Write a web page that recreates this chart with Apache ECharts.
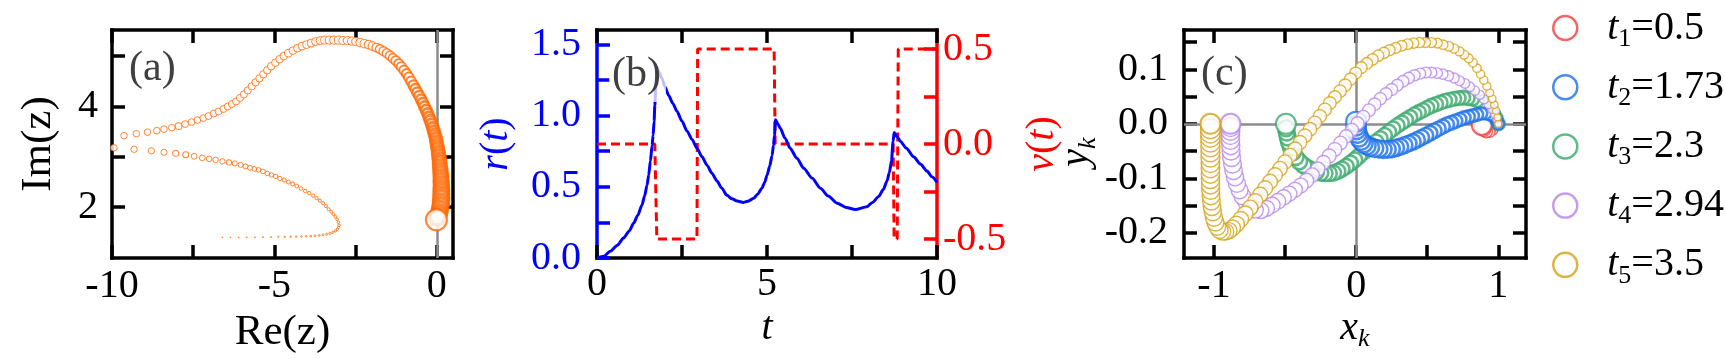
<!DOCTYPE html>
<html><head><meta charset="utf-8">
<script src="https://cdn.jsdelivr.net/npm/echarts@6/dist/echarts.min.js"></script>
<style>html,body{margin:0;padding:0;background:#fff}#c{width:1725px;height:359px}</style>
</head><body><div id="c"></div>
<script>
// ---------------- DATA ----------------
// Panel (a): trajectory of z in the complex plane, [Re(z), Im(z)], from first to last sample
const zPath = [
 [-6.6,1.4],[-6.35,1.4],[-6.1,1.4],[-5.85,1.4],[-5.6,1.4],[-5.35,1.405],[-5.1,1.405],[-4.88,1.41],[-4.68,1.41],[-4.5,1.412],[-4.33,1.415],[-4.17,1.418],[-4.02,1.42],[-3.88,1.425],[-3.75,1.43],[-3.62,1.438],[-3.5,1.448],[-3.39,1.46],[-3.29,1.478],[-3.2,1.5],[-3.12,1.53],[-3.06,1.565],[-3.02,1.6],[-3.01,1.64],
 [-3.03,1.7],[-3.07,1.76],[-3.12,1.81],[-3.18,1.86],[-3.25,1.91],[-3.33,1.96],[-3.41,2.02],[-3.5,2.08],[-3.6,2.13],[-3.7,2.18],[-3.81,2.23],[-3.93,2.28],[-4.05,2.32],[-4.18,2.37],[-4.31,2.42],[-4.44,2.46],[-4.57,2.5],[-4.7,2.54],[-4.83,2.57],[-4.96,2.61],[-5.09,2.64],[-5.22,2.67],[-5.35,2.71],[-5.49,2.74],[-5.62,2.76],[-5.75,2.78],[-5.89,2.81],[-6.04,2.84],[-6.22,2.87],[-6.4,2.89],[-6.6,2.91],[-6.81,2.94],[-7.01,2.96],[-7.22,2.98],[-7.47,3.01],[-7.73,3.04],[-8.04,3.07],[-8.4,3.09],[-8.79,3.12],[-9.32,3.15],[-9.94,3.18],
 [-9.63,3.42],[-9.25,3.46],[-8.91,3.49],[-8.62,3.52],[-8.4,3.55],[-8.16,3.58],[-7.95,3.61],[-7.75,3.65],[-7.55,3.69],[-7.37,3.73],[-7.19,3.77],[-7.03,3.81],[-6.87,3.86],[-6.72,3.9],[-6.57,3.95],[-6.44,4.0],[-6.31,4.05],[-6.18,4.1],
 [-6.06,4.17],[-5.94,4.24],[-5.82,4.32],[-5.7,4.4],[-5.58,4.48],[-5.46,4.56],[-5.34,4.64],[-5.22,4.72],[-5.1,4.8],[-4.97,4.87],[-4.84,4.94],[-4.71,5.0],[-4.57,5.06],[-4.43,5.11],[-4.29,5.16],[-4.15,5.2],[-4.01,5.23],[-3.87,5.26],[-3.73,5.29],[-3.59,5.31],[-3.45,5.32],[-3.31,5.32],[-3.17,5.32],[-3.03,5.32],[-2.89,5.31],[-2.75,5.31],[-2.62,5.3],[-2.49,5.29],[-2.36,5.27],[-2.23,5.25],
 [-2.1,5.23],[-1.98,5.2],[-1.86,5.17],[-1.75,5.14],[-1.64,5.1],[-1.54,5.06],[-1.44,5.01],[-1.35,4.96],[-1.26,4.91],[-1.17,4.85],[-1.09,4.79],[-1.01,4.72],[-0.93,4.65],[-0.86,4.58],[-0.79,4.5],[-0.72,4.42],[-0.66,4.35],[-0.6,4.28],[-0.54,4.21],[-0.48,4.14],[-0.43,4.07],[-0.38,4.0],[-0.33,3.93],[-0.28,3.86],[-0.24,3.79],[-0.2,3.72],[-0.16,3.65],[-0.12,3.58],[-0.09,3.51],[-0.06,3.44],[-0.03,3.37],[-0.01,3.3],
 [0.01,3.23],[0.03,3.16],[0.05,3.09],[0.06,3.02],[0.08,2.95],[0.09,2.88],[0.1,2.81],[0.11,2.74],[0.12,2.67],[0.13,2.6],[0.13,2.53],[0.14,2.46],[0.14,2.39],[0.14,2.32],[0.14,2.25],[0.14,2.18],[0.13,2.11],[0.12,2.04],[0.1,1.97],[0.08,1.9],[0.05,1.84],[0.02,1.79],[-0.01,1.75]
];

// Panel (b): r(t) and nu(t)
const rT = [0,0.2,0.39,0.6,0.78,0.95,1.08,1.2,1.32,1.4,1.47,1.52,1.57,1.62,1.65,1.68,1.7,1.73,1.76,1.83,1.91,2.0,2.11,2.23,2.35,2.5,2.65,2.8,2.94,3.09,3.24,3.38,3.53,3.67,3.82,3.97,4.12,4.31,4.46,4.61,4.73,4.85,4.93,5.0,5.08,5.15,5.19,5.22,5.25,5.32,5.39,5.53,5.68,5.88,6.08,6.33,6.57,6.8,7.06,7.33,7.6,7.94,8.1,8.28,8.42,8.53,8.6,8.66,8.71,8.74,8.83,8.92,9.1,9.31,9.51,9.71,9.85,10];
const rV = [0,0.012,0.047,0.09,0.14,0.19,0.245,0.3,0.37,0.435,0.51,0.58,0.68,0.79,0.86,0.96,1.07,1.2,1.34,1.3,1.26,1.2,1.14,1.085,1.03,0.96,0.89,0.83,0.77,0.71,0.65,0.595,0.54,0.49,0.44,0.415,0.4,0.39,0.4,0.42,0.45,0.49,0.53,0.58,0.645,0.72,0.79,0.86,0.97,0.94,0.91,0.84,0.77,0.7,0.63,0.56,0.49,0.435,0.385,0.355,0.34,0.36,0.39,0.43,0.48,0.54,0.6,0.68,0.82,0.88,0.85,0.82,0.77,0.71,0.66,0.61,0.57,0.53];
const nuT = [0,1.7,1.76,2.94,2.96,5.21,5.24,8.71,8.74,8.83,8.86,10];
const nuV = [0,0,-0.5,-0.5,0.5,0.5,0,0,-0.5,-0.5,0.5,0.5];

// Panel (c): [x_k, y_k] for five times
const legendTimes = ['0.5','1.73','2.3','2.94','3.5'];
const kT1 = [[1.0,0.0],[0.985,-0.007],[0.965,-0.012],[0.94,-0.015],[0.915,-0.014],[0.898,-0.01],[0.888,-0.005],[0.884,-0.002]];
const kT2 = [[1.0,0.0],[0.985,0.008],[0.965,0.014],[0.94,0.017],[0.91,0.019],[0.88,0.019],[0.85,0.017],[0.82,0.015],[0.79,0.013],[0.76,0.011],[0.73,0.008],[0.7,0.005],[0.67,0.002],[0.64,-0.001],[0.61,-0.005],[0.58,-0.009],[0.55,-0.013],[0.52,-0.017],[0.49,-0.021],[0.46,-0.025],[0.43,-0.029],[0.4,-0.033],[0.37,-0.036],[0.34,-0.039],[0.31,-0.042],[0.28,-0.044],[0.25,-0.046],[0.22,-0.047],[0.19,-0.047],[0.16,-0.046],[0.13,-0.045],[0.1,-0.043],[0.075,-0.04],[0.053,-0.036],[0.035,-0.031],[0.02,-0.025],[0.009,-0.018],[0.002,-0.011],[0.0,-0.004],[0.0,0.004]];
const kT3 = [[1.0,0.0],[0.985,0.01],[0.965,0.019],[0.94,0.027],[0.912,0.034],[0.882,0.039],[0.85,0.043],[0.818,0.046],[0.786,0.047],[0.754,0.048],[0.722,0.047],[0.69,0.046],[0.658,0.044],[0.626,0.042],[0.594,0.039],[0.562,0.036],[0.53,0.033],[0.5,0.029],[0.47,0.025],[0.44,0.021],[0.41,0.017],[0.38,0.012],[0.35,0.007],[0.32,0.002],[0.29,-0.003],[0.26,-0.009],[0.23,-0.015],[0.2,-0.021],[0.17,-0.027],[0.14,-0.033],[0.11,-0.04],[0.08,-0.046],[0.05,-0.052],[0.02,-0.059],[-0.01,-0.066],[-0.04,-0.072],[-0.07,-0.078],[-0.1,-0.083],[-0.13,-0.087],[-0.16,-0.09],[-0.19,-0.091],[-0.22,-0.091],[-0.25,-0.09],[-0.28,-0.088],[-0.31,-0.085],[-0.34,-0.081],[-0.37,-0.076],[-0.4,-0.069],[-0.425,-0.061],[-0.445,-0.052],[-0.46,-0.043],[-0.472,-0.034],[-0.481,-0.025],[-0.488,-0.016],[-0.492,-0.008],[-0.494,0.0]];
const kT4 = [[1.0,0.0],[0.99,0.009],[0.975,0.018],[0.955,0.027],[0.93,0.036],[0.9,0.045],[0.87,0.053],[0.835,0.061],[0.8,0.068],[0.765,0.074],[0.727,0.079],[0.69,0.084],[0.65,0.088],[0.61,0.091],[0.57,0.093],[0.53,0.094],[0.49,0.094],[0.45,0.092],[0.41,0.089],[0.37,0.084],[0.33,0.078],[0.29,0.071],[0.25,0.063],[0.21,0.055],[0.17,0.046],[0.13,0.036],[0.09,0.025],[0.05,0.013],[0.01,0.001],[-0.03,-0.011],[-0.07,-0.023],[-0.11,-0.035],[-0.15,-0.047],[-0.19,-0.059],[-0.23,-0.071],[-0.27,-0.083],[-0.31,-0.094],[-0.35,-0.104],[-0.39,-0.113],[-0.43,-0.121],[-0.47,-0.128],[-0.51,-0.135],[-0.55,-0.142],[-0.59,-0.149],[-0.63,-0.155],[-0.67,-0.159],[-0.71,-0.158],[-0.745,-0.152],[-0.775,-0.143],[-0.8,-0.133],[-0.82,-0.122],[-0.838,-0.11],[-0.852,-0.098],[-0.862,-0.086],[-0.87,-0.074],[-0.876,-0.062],[-0.88,-0.05],[-0.882,-0.04],[-0.884,-0.03],[-0.884,-0.021],[-0.884,-0.013],[-0.884,-0.006],[-0.884,0.0]];
const kT5 = [[1.0,0.0],[0.995,0.012],[0.985,0.024],[0.972,0.035],[0.957,0.046],[0.94,0.057],[0.92,0.069],[0.898,0.08],[0.875,0.091],[0.85,0.102],[0.822,0.112],[0.792,0.12],[0.76,0.127],[0.726,0.133],[0.69,0.138],[0.652,0.142],[0.612,0.145],[0.572,0.148],[0.53,0.149],[0.488,0.149],[0.446,0.149],[0.404,0.148],[0.362,0.146],[0.32,0.143],[0.278,0.139],[0.236,0.135],[0.195,0.13],[0.155,0.125],[0.115,0.118],[0.075,0.111],[0.036,0.103],[-0.003,0.093],[-0.04,0.082],[-0.077,0.071],[-0.113,0.06],[-0.149,0.049],[-0.185,0.038],[-0.22,0.026],[-0.255,0.014],[-0.29,0.002],[-0.325,-0.01],[-0.36,-0.022],[-0.395,-0.034],[-0.43,-0.046],[-0.465,-0.058],[-0.5,-0.07],[-0.535,-0.082],[-0.57,-0.094],[-0.605,-0.106],[-0.64,-0.118],[-0.675,-0.13],[-0.71,-0.142],[-0.745,-0.154],[-0.78,-0.165],[-0.812,-0.175],[-0.842,-0.184],[-0.87,-0.191],[-0.895,-0.196],[-0.918,-0.198],[-0.94,-0.198],[-0.96,-0.195],[-0.977,-0.189],[-0.99,-0.181],[-1.0,-0.172],[-1.008,-0.162],[-1.014,-0.152],[-1.018,-0.142],[-1.021,-0.132],[-1.023,-0.122],[-1.024,-0.112],[-1.025,-0.102],[-1.025,-0.092],[-1.025,-0.082],[-1.025,-0.072],[-1.025,-0.062],[-1.025,-0.052],[-1.025,-0.043],[-1.025,-0.034],[-1.025,-0.025],[-1.025,-0.017],[-1.025,-0.009],[-1.025,0.0]];

// Tick values and labels
const aXTicks = [-10,-7.5,-5,-2.5,0], aXLabels = [-10,-5,0];
const aYTicks = [2,3,4,5], aYLabels = [2,4];
const bXTicks = [0,2.5,5,7.5,10], bXLabels = [0,5,10];
const bRTicks = [0,0.25,0.5,0.75,1,1.25,1.5], bRLabels = [0,0.5,1,1.5];
const bNuTicks = [-0.5,-0.25,0,0.25,0.5], bNuLabels = [-0.5,0,0.5];
const cXTicks = [-1,-0.5,0,0.5,1], cXLabels = [-1,0,1];
const cYTicks = [-0.2,-0.15,-0.1,-0.05,0,0.05,0.1,0.15], cYLabels = [-0.2,-0.1,0,0.1];

// ---------------- STYLE / BUILD ----------------
const SERIF = 'Liberation Serif';
const FS = 40;
const fmt1 = v => v.toFixed(1);
const fmt0 = v => String(v);

function mkAxis(o) {
  const color = o.color || '#000';
  const ax = {
    type: 'value', gridIndex: o.grid, position: o.pos, min: o.min, max: o.max,
    splitLine: { show: false },
    axisLine: { show: true, onZero: false, lineStyle: { color: color, width: 3.5, cap: 'square' } },
    axisTick: { show: true, inside: true, length: 13, customValues: o.ticks, lineStyle: { color: color, width: 3.5 } },
    axisLabel: o.labels ? { show: true, customValues: o.labels, margin: o.margin, color: color,
      fontFamily: SERIF, fontSize: FS, formatter: o.fmt } : { show: false },
    axisPointer: { show: false }
  };
  if (o.name) {
    ax.name = o.name; ax.nameLocation = 'middle'; ax.nameGap = o.nameGap;
    if (o.nameRotate != null) ax.nameRotate = o.nameRotate;
    if (o.noMove) ax.nameMoveOverlap = false;
    ax.nameTextStyle = Object.assign({ color: color, fontFamily: SERIF, fontSize: FS }, o.nameStyle || {});
  }
  return ax;
}
function richMath(color) {
  return {
    i: { fontFamily: SERIF, fontStyle: 'italic', fontSize: FS, lineHeight: 50, color: color },
    u: { fontFamily: SERIF, fontSize: FS, lineHeight: 50, color: color },
    s: { fontFamily: SERIF, fontStyle: 'italic', fontSize: 26, lineHeight: 26, padding: [22, 0, 0, 0], color: color }
  };
}

const xAxes = [
  mkAxis({ grid: 0, pos: 'bottom', min: -10, max: 0.5, ticks: aXTicks, labels: aXLabels, margin: 8, fmt: fmt0,
           name: 'Re(z)', nameGap: 46, nameStyle: { fontSize: 43 } }),
  mkAxis({ grid: 0, pos: 'top', min: -10, max: 0.5, ticks: aXTicks }),
  mkAxis({ grid: 1, pos: 'bottom', min: 0, max: 10, ticks: bXTicks, labels: bXLabels, margin: 6, fmt: fmt0,
           name: '{i|t}', nameGap: 44, nameStyle: { rich: richMath('#000') } }),
  mkAxis({ grid: 1, pos: 'top', min: 0, max: 10, ticks: bXTicks }),
  mkAxis({ grid: 2, pos: 'bottom', min: -1.211, max: 1.195, ticks: cXTicks, labels: cXLabels, margin: 8, fmt: fmt0,
           name: '{i|x}{s|k}', nameGap: 45, noMove: true, nameStyle: { rich: richMath('#000') } }),
  mkAxis({ grid: 2, pos: 'top', min: -1.211, max: 1.195, ticks: cXTicks })
];
const yAxes = [
  mkAxis({ grid: 0, pos: 'left', min: 0.99, max: 5.52, ticks: aYTicks, labels: aYLabels, margin: 14, fmt: fmt0,
           name: 'Im(z)', nameGap: 52, nameRotate: 90, nameStyle: { fontSize: 43 } }),
  mkAxis({ grid: 0, pos: 'right', min: 0.99, max: 5.52, ticks: aYTicks }),
  mkAxis({ grid: 1, pos: 'left', min: 0, max: 1.6, ticks: bRTicks, labels: bRLabels, margin: 16, fmt: fmt1, color: '#0000ff',
           name: '{i|r}{u|(}{i|t}{u|)}', nameGap: 76, nameRotate: 90, nameStyle: { rich: richMath('#0000ff') } }),
  mkAxis({ grid: 1, pos: 'right', min: -0.6, max: 0.6, ticks: bNuTicks, labels: bNuLabels, margin: 6, fmt: fmt1, color: '#ff0000',
           name: '{i|ν}{u|(}{i|t}{u|)}', nameGap: 80, nameRotate: 90, nameStyle: { rich: richMath('#ff0000') } }),
  mkAxis({ grid: 2, pos: 'left', min: -0.246, max: 0.172, ticks: cYTicks, labels: cYLabels, margin: 16, fmt: fmt1,
           name: '{i|y}{s|k}', nameGap: 72, nameRotate: 90, nameStyle: { rich: richMath('#000'), padding: [0, 16, 0, 0] } }),
  mkAxis({ grid: 2, pos: 'right', min: -0.246, max: 0.172, ticks: cYTicks })
];

const zeroLine = (data) => ({ silent: true, symbol: 'none', z: 1, animation: false, label: { show: false },
  lineStyle: { color: '#8c8c8c', width: 2.5, type: 'solid' }, emphasis: { disabled: true }, data: data });

// panel (a): circle size and ring width grow along the trajectory
const aKnots = [[0,0.8],[23,2.5],[35,3.5],[50,5],[64,6.5],[82,7],[112,8.5],[144,11],[160,15],[166,15],[167,21]];
function sizeA(i) {
  for (let k = 1; k < aKnots.length; k++) {
    if (i <= aKnots[k][0]) {
      const [i0, s0] = aKnots[k-1], [i1, s1] = aKnots[k];
      return s0 + (s1 - s0) * (i - i0) / (i1 - i0);
    }
  }
  return aKnots[aKnots.length-1][1];
}
function ringA(i, n) {
  if (i === n - 1) return 2;
  if (i <= 112) return 1;
  if (i <= 144) return 1 + 2.5 * (i - 112) / 32;
  return 3.5;
}
function withRings(arr, fn) {
  return arr.map((p, i) => ({ value: p, itemStyle: { borderWidth: fn(i, arr.length) } }));
}

const series = [
  { type: 'scatter', name: 'z', xAxisIndex: 0, yAxisIndex: 0, z: 10, animation: false, silent: true,
    symbol: 'circle', symbolSize: (v, p) => sizeA(p.dataIndex),
    itemStyle: { color: '#ffffff', borderColor: '#ff6600', borderWidth: 1 },
    data: withRings(zPath, ringA), markLine: zeroLine([{ xAxis: 0 }]) },
  { type: 'line', name: 'nu', xAxisIndex: 2, yAxisIndex: 3, z: 3, animation: false, silent: true, showSymbol: false,
    lineStyle: { color: '#ff0000', width: 3, type: [9, 5] }, data: nuT.map((t, i) => [t, nuV[i]]) },
  { type: 'line', name: 'r', xAxisIndex: 2, yAxisIndex: 2, z: 4, animation: false, silent: true, showSymbol: false,
    smooth: 0.25, smoothMonotone: 'x',
    lineStyle: { color: '#0000ff', width: 3 }, data: rT.map((t, i) => [t, rV[i]]) }
];

const cSets = [
  { data: kT1, color: '#f0403f', s: [5, 18], bw: 1.5 },
  { data: kT3, color: '#3aa86b', s: [13, 16], bw: 2.6 },
  { data: kT2, color: '#1a6fe8', s: [11, 19], bw: 2.6 },
  { data: kT4, color: '#b584ec', s: [8, 19], bw: 1.4 },
  { data: kT5, color: '#d4a012', s: [7, 20], bw: 1.4 }
];
const cIndex = [0, 2, 1, 3, 4];
const cNames = legendTimes.map((v, i) => 't' + (i + 1) + '=' + v);
cSets.forEach((c, j) => {
  const n = c.data.length;
  series.push({
    type: 'scatter', name: cNames[cIndex[j]], xAxisIndex: 4, yAxisIndex: 4, z: 10, animation: false, silent: true,
    symbol: 'circle',
    symbolSize: (v, p) => p.dataIndex === n - 1 ? 20 : c.s[0] + (c.s[1] - c.s[0]) * p.dataIndex / (n - 1),
    itemStyle: { color: '#ffffff', borderColor: c.color, borderWidth: c.bw },
    data: withRings(c.data, (i, m) => i === m - 1 ? 2 : c.bw),
    markLine: j === 0 ? zeroLine([{ xAxis: 0 }, { yAxis: 0 }]) : undefined
  });
});

const option = {
  backgroundColor: '#ffffff',
  animation: false,
  grid: [
    { left: 112, top: 30, width: 341, height: 228, outerBoundsMode: 'none' },
    { left: 597, top: 30, width: 340, height: 228, outerBoundsMode: 'none' },
    { left: 1184, top: 30, width: 342, height: 228, outerBoundsMode: 'none' }
  ],
  xAxis: xAxes,
  yAxis: yAxes,
  legend: {
    orient: 'vertical', left: 1552, top: 4, padding: 0, itemGap: 11.2, itemWidth: 24, itemHeight: 24,
    icon: 'circle', selectedMode: false, data: cNames,
    itemStyle: { color: '#ffffff', borderWidth: 2.5 },
    formatter: name => {
      const m = name.match(/^t(\d)=(.*)$/);
      return '{t|t}{s|' + m[1] + '}{e|=' + m[2] + '}';
    },
    textStyle: { color: '#000', rich: {
      t: { fontFamily: SERIF, fontStyle: 'italic', fontSize: FS, lineHeight: 50, padding: [0, 0, 0, 25], color: '#000' },
      s: { fontFamily: SERIF, fontSize: 26, lineHeight: 26, padding: [22, 0, 0, 0], color: '#000' },
      e: { fontFamily: SERIF, fontSize: FS, lineHeight: 50, color: '#000' }
    } }
  },
  graphic: [
    { type: 'text', left: 129, top: 48, z: 100, silent: true,
      style: { text: '(a)', fontFamily: SERIF, fontSize: 42, fill: '#404040' } },
    { type: 'text', left: 609, top: 51, z: 100, silent: true,
      style: { text: '(b)', fontFamily: SERIF, fontSize: 42, fill: '#404040',
               backgroundColor: 'rgba(255,255,255,0.75)', padding: [3, 5, 6, 3] } },
    { type: 'text', left: 1201, top: 53, z: 100, silent: true,
      style: { text: '(c)', fontFamily: SERIF, fontSize: 42, fill: '#404040' } }
  ],
  series: series
};

const chart = echarts.init(document.getElementById('c'), null, { renderer: 'canvas' });
chart.setOption(option);
</script>
</body></html>
